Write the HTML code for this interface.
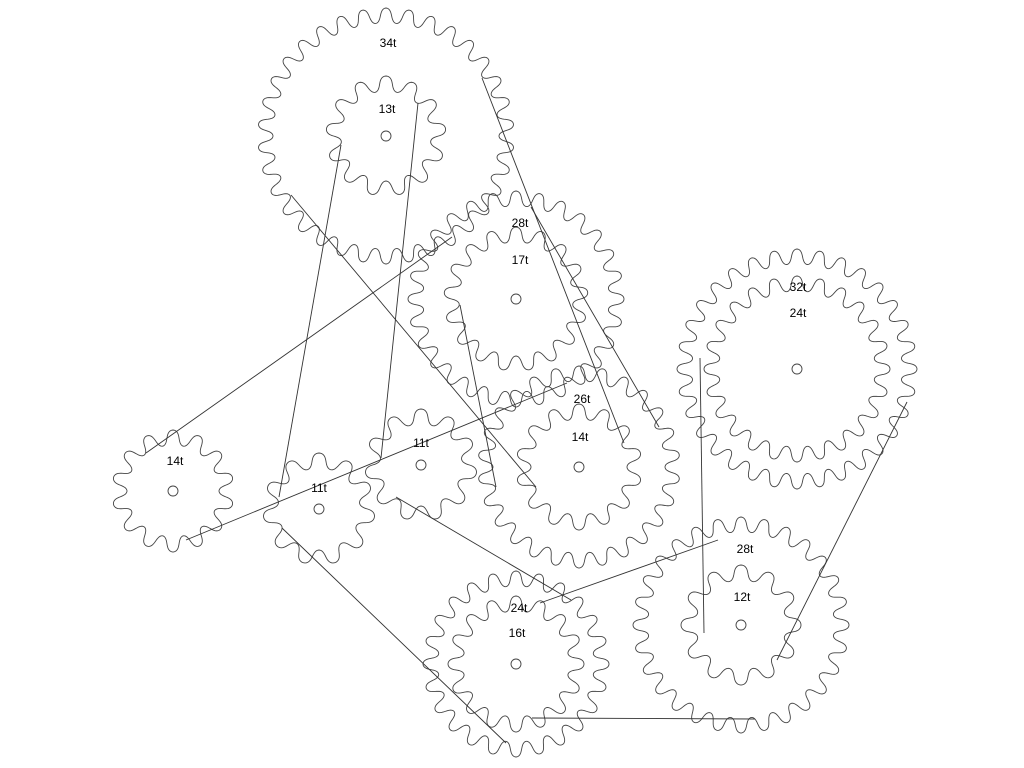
<!DOCTYPE html>
<html><head><meta charset="utf-8"><style>
html,body{margin:0;padding:0;background:#fff;}
svg{display:block}
text{font-family:"Liberation Sans",sans-serif;font-size:12px;fill:#000;text-anchor:middle}
</style></head><body>
<svg id="s" width="1024" height="768" viewBox="0 0 1024 768" xmlns="http://www.w3.org/2000/svg">
<g id="g" fill="none" stroke="#444" stroke-width="0.9"></g>
<g fill="none" stroke="#333" stroke-width="0.9">
<line x1="482" y1="78" x2="624" y2="443"/>
<line x1="531" y1="207" x2="659" y2="427"/>
<line x1="291" y1="195" x2="536" y2="487"/>
<line x1="341" y1="145" x2="279" y2="497"/>
<line x1="418" y1="103" x2="381" y2="458"/>
<line x1="146" y1="453" x2="452" y2="237"/>
<line x1="186" y1="540" x2="567" y2="383"/>
<line x1="460" y1="305" x2="496" y2="487"/>
<line x1="396" y1="497" x2="571" y2="600"/>
<line x1="282" y1="528" x2="506" y2="743"/>
<line x1="532" y1="718" x2="755" y2="719"/>
<line x1="700" y1="358" x2="704" y2="633"/>
<line x1="907" y1="402" x2="777" y2="660"/>
<line x1="540" y1="603" x2="718" y2="540"/>
</g>
<g>
<text x="388" y="47">34t</text>
<text x="387" y="113">13t</text>
<text x="520" y="227">28t</text>
<text x="520" y="264">17t</text>
<text x="798" y="291">32t</text>
<text x="798" y="317">24t</text>
<text x="582" y="403">26t</text>
<text x="580" y="441">14t</text>
<text x="175" y="465">14t</text>
<text x="319" y="492">11t</text>
<text x="421" y="447">11t</text>
<text x="745" y="553">28t</text>
<text x="742" y="601">12t</text>
<text x="519" y="612">24t</text>
<text x="517" y="637">16t</text>
</g>
</svg>
<script>
var gears=[
[386,136,34,128],[386,136,13,60],
[516,299,28,108],[516,299,17,72],
[797,369,32,120],[797,369,24,93],
[579,467,26,101],[579,467,14,63],
[173,491,14,61],[319,509,11,56],[421,465,11,56],
[516,664,24,93],[516,664,16,68],
[741,625,28,108],[741,625,12,60]];
var g=document.getElementById('g'),ns='http://www.w3.org/2000/svg',done={};
gears.forEach(function(a){
 var cx=a[0],cy=a[1],n=a[2],R=a[3],h=15,d='';
 var N=n*32;
 for(var i=0;i<=N;i++){
  var t=i/N*2*Math.PI;
  var u=n*t;
  var r=R-h/2+h/2*Math.cos(u);
  var tt=t+0.22*Math.sin(2*u)/n;
  var x=cx+r*Math.sin(tt),y=cy-r*Math.cos(tt);
  d+=(i?'L':'M')+x.toFixed(2)+' '+y.toFixed(2);
 }
 var p=document.createElementNS(ns,'path');p.setAttribute('d',d+'Z');g.appendChild(p);
 var k=cx+','+cy;
 if(!done[k]){done[k]=1;var c=document.createElementNS(ns,'circle');
 c.setAttribute('cx',cx);c.setAttribute('cy',cy);c.setAttribute('r',5);g.appendChild(c);}
});
</script>
</body></html>
